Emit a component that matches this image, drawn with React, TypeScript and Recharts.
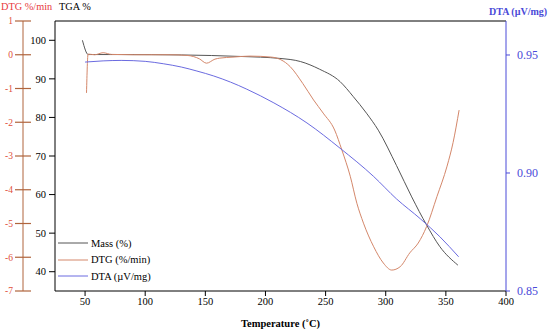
import React from 'react';
import { LineChart, Line, XAxis, YAxis, Legend, ReferenceLine } from 'recharts';

const xTicks = [50, 100, 150, 200, 250, 300, 350, 400];
const tgaTicks = [40, 50, 60, 70, 80, 90, 100];
const dtgTicks = [-7, -6, -5, -4, -3, -2, -1, 0, 1];
const dtaTicks = [0.85, 0.9, 0.95];

const massT = [47.8, 52.7, 80, 130, 180, 212, 229, 245, 262, 273, 284, 293.8, 309, 321.6, 334, 345, 360];
const massV = [100, 96.3, 96.3, 96.2, 95.8, 95.3, 94.5, 92.5, 89.3, 85.4, 81.1, 76.7, 67.5, 59.4, 52.1, 46.5, 41.7];

const dtgT = [51.2, 52.5, 58, 65, 72, 90, 120, 135, 145, 151, 158, 162, 173, 187, 205, 220.5, 231, 240, 248, 257.5, 263.5, 270.5, 276, 281.5, 290, 298, 305, 312, 320, 327, 334, 342.6, 351, 356, 361];
const dtgV = [-1.13, 0.02, 0.0, 0.06, 0.01, 0.0, 0.0, -0.02, -0.12, -0.25, -0.13, -0.1, -0.07, -0.04, -0.07, -0.35, -0.85, -1.34, -1.73, -2.23, -2.82, -3.6, -4.4, -4.99, -5.69, -6.17, -6.38, -6.28, -5.87, -5.58, -5.09, -4.2, -3.3, -2.6, -1.64];

const dtaT = [50, 65, 80, 100, 115, 130, 143, 157, 171, 184.5, 207, 234.5, 262, 290, 309, 329, 345, 360.6];
const dtaV = [0.947, 0.9475, 0.9477, 0.9473, 0.9463, 0.9449, 0.9432, 0.9411, 0.9385, 0.9355, 0.9297, 0.9212, 0.9105, 0.8985, 0.889, 0.8805, 0.873, 0.8645];

const zip = (ts: number[], vs: number[]) => ts.map((t, i) => ({ t, v: vs[i] }));
const massData = zip(massT, massV);
const dtgData = zip(dtgT, dtgV);
const dtaData = zip(dtaT, dtaV);

const FONT = '"Liberation Serif", "Times New Roman", serif';
const MASS_C = '#555555';
const DTG_C = '#d4876a';
const DTA_C = '#6b6be0';
const DTG_AXIS = '#b0643c';
const DTG_LABEL = '#e0503a';
const DTA_AXIS = '#4a4ad8';

const DtgTick = (props: any) => {
  const { x, y, payload } = props;
  const ax = x + 7;
  return (
    <g>
      <line x1={ax - 8} x2={ax + 8} y1={y} y2={y} stroke={DTG_AXIS} strokeWidth={1.2} />
      <text x={ax - 10} y={y} dy="0.35em" textAnchor="end" fill={DTG_LABEL} fontSize={9.5} style={{ fontFamily: FONT }}>
        {payload.value}
      </text>
    </g>
  );
};

const legendItems = [
  { name: 'Mass (%)', color: MASS_C },
  { name: 'DTG (%/min)', color: DTG_C },
  { name: 'DTA (\u00b5V/mg)', color: DTA_C },
];

const LegendContent = () => (
  <div style={{ fontFamily: FONT, fontSize: 10.5, color: '#000' }}>
    {legendItems.map((it) => (
      <div key={it.name} style={{ display: 'flex', alignItems: 'center', height: 16.5, whiteSpace: 'nowrap' }}>
        <svg width={33} height={4} style={{ display: 'block' }}>
          <line x1={0} x2={30} y1={2} y2={2} stroke={it.color} strokeWidth={1} />
        </svg>
        <span>{it.name}</span>
      </div>
    ))}
  </div>
);

export default function App() {
  return (
    <div style={{ position: 'absolute', left: 0, top: 0, width: 550, height: 333, background: '#fff', fontFamily: FONT }}>
      <LineChart width={550} height={333} margin={{ top: 21, right: 0, bottom: 0, left: 0 }} style={{ fontFamily: FONT }}>
        <XAxis
          dataKey="t"
          type="number"
          domain={[25, 400]}
          ticks={xTicks}
          allowDuplicatedCategory={false}
          height={42}
          stroke="#000"
          tickSize={5}
          tickMargin={2}
          tick={{ fill: '#000', fontSize: 10.5, fontFamily: FONT }}
          label={{ value: 'Temperature (\u02daC)', position: 'insideBottom', offset: 6, fill: '#000', fontSize: 10.5, fontWeight: 'bold' }}
        />
        <YAxis
          yAxisId="a_tga"
          orientation="left"
          width={32}
          type="number"
          domain={[35, 105]}
          ticks={tgaTicks}
          stroke="#000"
          tickSize={6}
          tickMargin={3}
          tick={{ fill: '#000', fontSize: 10.5, fontFamily: FONT }}
        />
        <YAxis
          yAxisId="b_dtg"
          orientation="left"
          width={23}
          type="number"
          domain={[-7, 1]}
          ticks={dtgTicks}
          stroke={DTG_AXIS}
          tickSize={5}
          tickMargin={2}
          tickLine={false}
          tick={<DtgTick />}
        />
        <YAxis
          yAxisId="c_dta"
          orientation="right"
          width={44}
          type="number"
          domain={[0.85, 0.9644]}
          ticks={dtaTicks}
          stroke={DTA_AXIS}
          tickSize={4}
          tickMargin={7}
          tickFormatter={(v: number) => v.toFixed(2)}
          tick={{ fill: DTA_AXIS, fontSize: 12, fontFamily: FONT }}
        />
        <ReferenceLine yAxisId="a_tga" y={105} stroke="#000" />
        <Legend
          layout="vertical"
          align="center"
          verticalAlign="middle"
          content={<LegendContent />}
          wrapperStyle={{ left: 58, top: 235, width: 120, height: 50 }}
        />
        <Line yAxisId="a_tga" data={massData} dataKey="v" name="Mass (%)" type="monotone" stroke={MASS_C} strokeWidth={1} dot={false} isAnimationActive={false} />
        <Line yAxisId="b_dtg" data={dtgData} dataKey="v" name="DTG (%/min)" type="monotone" stroke={DTG_C} strokeWidth={1} dot={false} isAnimationActive={false} />
        <Line yAxisId="c_dta" data={dtaData} dataKey="v" name="DTA (µV/mg)" type="monotone" stroke={DTA_C} strokeWidth={1} dot={false} isAnimationActive={false} />
      </LineChart>
      <div style={{ position: 'absolute', left: 1, top: 1, fontFamily: FONT, fontSize: 10.3, color: '#e8383d', whiteSpace: 'nowrap' }}>DTG %/min</div>
      <div style={{ position: 'absolute', left: 59, top: 1, fontFamily: FONT, fontSize: 10.3, color: '#000', whiteSpace: 'nowrap' }}>TGA %</div>
      <div style={{ position: 'absolute', left: 489, top: 6, fontFamily: FONT, fontSize: 10, fontWeight: 'bold', color: DTA_AXIS, whiteSpace: 'nowrap' }}>DTA (µV/mg)</div>
    </div>
  );
}
